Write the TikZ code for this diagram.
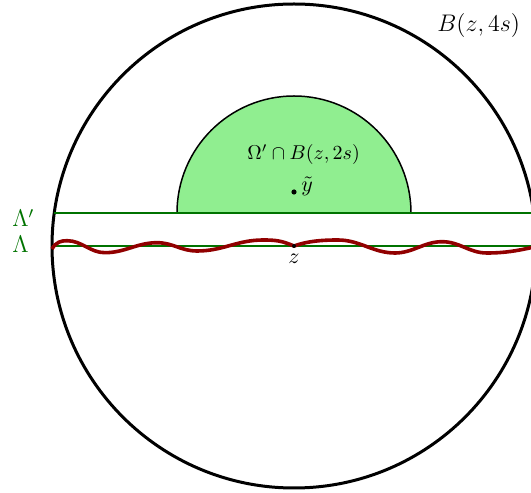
\documentclass[tikz,border=0pt]{standalone}
\usetikzlibrary{calc}
\definecolor{lgreen}{RGB}{144,238,144}
\definecolor{dgreen}{RGB}{0,115,0}
\definecolor{dred}{RGB}{145,0,0}
\tikzset{
  ball/.style={line width=1.5pt},
  hline/.style={dgreen,line width=1pt},
  wave/.style={dred,line width=1.8pt,line join=round},
  lab/.style={inner sep=0pt},
}
\begin{document}
\begin{tikzpicture}[x=0.5pt,y=0.5pt]
\useasboundingbox (0,0) rectangle (531,493);
\clip (0,0) rectangle (531,493);
\coordinate (z) at (294,247);
\coordinate (c2) at (294,280);
% big ball
\draw[ball] (z) circle[radius=242];
% half disk
\fill[lgreen] (177,280) arc[start angle=180,end angle=0,radius=117] -- cycle;
\draw[line width=0.75pt] (177,280) arc[start angle=180,end angle=0,radius=117];
% lines
\draw[hline] (54.3,280) -- (540,280);
\draw[hline] (52,247) -- (540,247);
% wave
\draw[wave] (52,244) .. controls +(4,7) and +(-6,0) .. (67,252.3)
  .. controls +(15,0) and +(-15,0) .. (105,240.3)
  .. controls +(20,0) and +(-20,0) .. (157,250.3)
  .. controls +(16,0) and +(-16,0) .. (197,242)
  .. controls +(26,0) and +(-26,0) .. (263,253)
  .. controls +(14,0) and +(-12,5) .. (z)
  .. controls +(14,5) and +(-16,0) .. (338,253)
  .. controls +(22,0) and +(-22,0) .. (395,240)
  .. controls +(18,0) and +(-18,0) .. (442,251.3)
  .. controls +(18,0) and +(-18,0) .. (487,240)
  .. controls +(18,0) and +(-14,-3) .. (531,245.3) -- (545,248);
% dots
\fill (z) circle[radius=2];
\coordinate (yt) at (294,301);
\fill (yt) circle[radius=2.6];
% labels
\node[lab,anchor=base west,text=dgreen,font=\fontsize{11.7}{14}\selectfont] (lp) at (12,266) {$\Lambda'$};
\node[lab,anchor=base west,text=dgreen,font=\fontsize{11.7}{14}\selectfont] (l) at (12,240) {$\Lambda$};
\node[lab,anchor=base,font=\fontsize{10.5}{12}\selectfont] (zl) at (294,229) {$z$};
\node[lab,anchor=base west,font=\fontsize{11}{13}\selectfont] (ytl) at (301,301) {$\tilde y$};
\node[lab,anchor=base west,font=\fontsize{10}{12}\selectfont] (om) at (247,333) {$\Omega'\cap B(z,2s)$};
\node[lab,anchor=base west,font=\fontsize{11.5}{14}\selectfont] (bl) at (437,461.5) {$B(z,4s)$};
\end{tikzpicture}
\end{document}
